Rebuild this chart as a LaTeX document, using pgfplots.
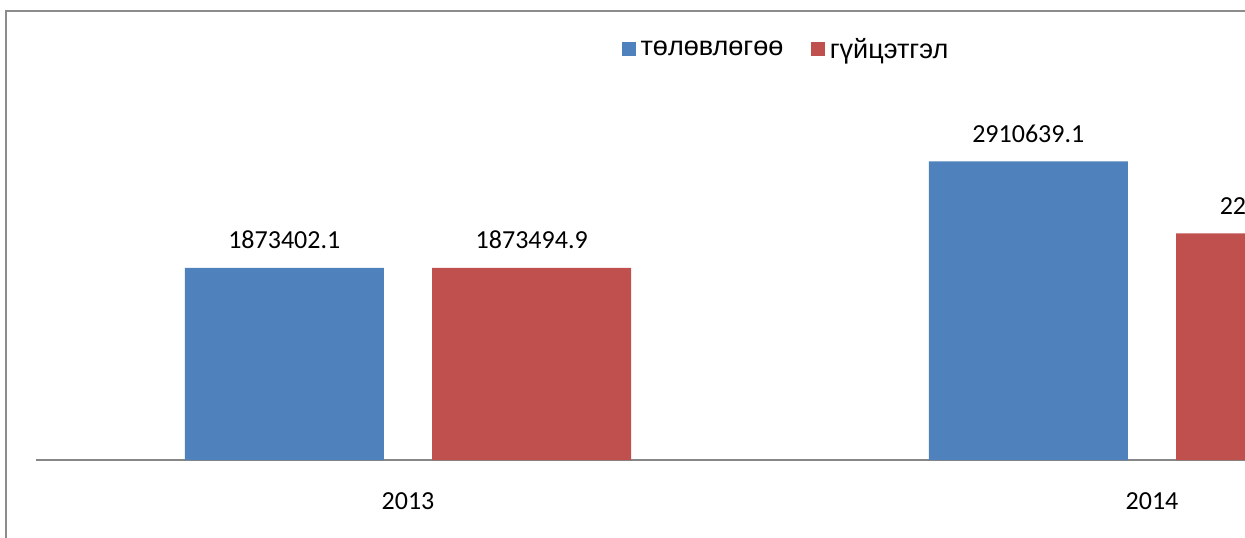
\documentclass[border=0pt]{standalone}
\usepackage{pgfplots}
\pgfplotsset{compat=1.18}
\usepackage{pgfplotstable}
\usepackage{fontspec}
\setmainfont{Carlito}
\newfontfamily\legfont{Liberation Sans}
\definecolor{xblue}{HTML}{4F81BD}
\definecolor{xred}{HTML}{C0504D}
\definecolor{axgray}{HTML}{868686}
\definecolor{frgray}{HTML}{8C8C8C}

\pgfplotstableread{
x y label
0.5 1873402.1 1873402.1
1.5 2910639.1 2910639.1
}\plan
\pgfplotstableread{
x y label
0.5 1873494.9 1873494.9
1.5 2209500.0 2209500.0
}\perf

\begin{document}
\begin{tikzpicture}
\useasboundingbox (0pt,0pt) rectangle (933.75pt,-402.75pt);
\clip (0pt,0pt) rectangle (933.75pt,-402.75pt);
\draw[frgray, line width=1.6pt] (4.5pt,-8.25pt) rectangle (1100pt,-500pt);
\begin{axis}[
  at={(27pt,-345pt)}, anchor=south west,
  scale only axis, width=1116pt, height=300pt,
  xmin=0, xmax=2, ymin=0, ymax=3900000,
  ybar, bar width=149.25pt,
  axis x line*=bottom, axis y line=none,
  x axis line style={axgray, line width=1pt},
  xtick={0.5,1.5}, xticklabels={2013,2014},
  major tick length=0pt,
  xticklabel style={anchor=base, yshift=-36.75pt, font=\fontsize{19.5}{23}\selectfont},
  ytick=\empty,
  clip=false,
  nodes near coords, point meta=explicit symbolic,
  every node near coord/.append style={anchor=base, yshift=14.25pt, font=\fontsize{19.5}{23}\selectfont, text=black},
  legend style={at={(rel axis cs:0.3938,1.0275)}, anchor=west, draw=none, fill=none,
    inner sep=0pt, legend columns=2, font=\legfont\fontsize{20.3}{24}\selectfont,
    nodes={inner sep=0pt},
    /tikz/every odd column/.append style={column sep=3.75pt},
    /tikz/every even column/.append style={column sep=21pt}},
]
\addplot[fill=xblue, draw=none, bar shift=-92.8pt,
  legend image code/.code={\fill[xblue] (0pt,-5pt) rectangle (10pt,5pt);}]
  table[x=x, y=y, meta=label] {\plan};
\addplot[fill=xred, draw=none, bar shift=92.8pt,
  legend image code/.code={\fill[xred] (0pt,-5pt) rectangle (10pt,5pt);}]
  table[x=x, y=y, meta=label] {\perf};
\legend{төлөвлөгөө, гүйцэтгэл}
\end{axis}
\end{tikzpicture}
\end{document}
